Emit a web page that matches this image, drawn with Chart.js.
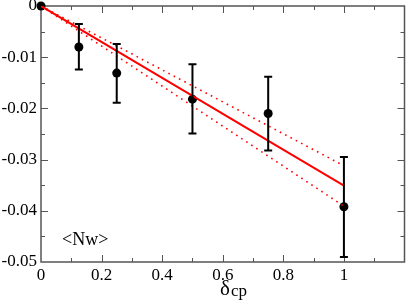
<!DOCTYPE html>
<html>
<head>
<meta charset="utf-8">
<script src="https://cdn.jsdelivr.net/npm/chart.js@4/dist/chart.umd.min.js"></script>
<style>
  body { margin: 0; background: #fff; }
  #wrap { width: 409px; height: 306px; position: relative; }
</style>
</head>
<body>
<div id="wrap"><canvas id="chart"></canvas></div>
<script>
// data
var xVals = [0, 0.125, 0.25, 0.5, 0.75, 1];
var nwVals = [0, -0.0080, -0.0131, -0.0182, -0.0210, -0.0392];
var errHigh = [0, -0.0035, -0.0074, -0.0114, -0.0138, -0.0295];
var errLow = [0, -0.0124, -0.0189, -0.0249, -0.0282, -0.0490];

var fitX = [0, 1];
var fitY = [0, -0.0351];
var fitUpper = [0, -0.0312];
var fitLower = [0, -0.0391];

var xTicks = [0, 0.2, 0.4, 0.6, 0.8, 1];
var yTicks = [0, -0.01, -0.02, -0.03, -0.04, -0.05];

function pts(xs, ys) {
    var out = [];
    for (var i = 0; i < xs.length; i++) out.push({x: xs[i], y: ys[i]});
    return out;
}

var serif = "'Liberation Serif', 'DejaVu Serif', serif";

// frame, inward ticks, error bars and axis title
var decor = {
    id: 'decor',
    beforeDatasetsDraw: function(chart) {
        var ctx = chart.ctx;
        var a = chart.chartArea;
        var xs = chart.scales.x, ys = chart.scales.y;
        ctx.save();
        ctx.strokeStyle = '#555';
        ctx.lineWidth = 1.5;
        ctx.strokeRect(a.left, a.top, a.right - a.left, a.bottom - a.top);
        ctx.lineWidth = 1;
        ctx.beginPath();
        // x ticks every 0.1, major every 0.2
        for (var k = 1; k < 12; k++) {
            var len = (k % 2 === 0) ? 7 : 4;
            var px = Math.round(xs.getPixelForValue(k / 10)) + 0.5;
            ctx.moveTo(px, a.bottom); ctx.lineTo(px, a.bottom - len);
            ctx.moveTo(px, a.top); ctx.lineTo(px, a.top + len);
        }
        // y ticks every 0.005, major every 0.01
        for (var j = 1; j < 10; j++) {
            var len2 = (j % 2 === 0) ? 7 : 4;
            var py = Math.round(ys.getPixelForValue(-j * 0.005)) + 0.5;
            ctx.moveTo(a.left, py); ctx.lineTo(a.left + len2, py);
            ctx.moveTo(a.right, py); ctx.lineTo(a.right - len2, py);
        }
        ctx.stroke();
        ctx.restore();
    },
    afterDatasetsDraw: function(chart) {
        var ctx = chart.ctx;
        var xs = chart.scales.x, ys = chart.scales.y;
        ctx.save();
        ctx.strokeStyle = '#000';
        ctx.lineWidth = 2;
        for (var i = 0; i < xVals.length; i++) {
            if (errHigh[i] === errLow[i]) continue;
            var px = xs.getPixelForValue(xVals[i]);
            var top = ys.getPixelForValue(errHigh[i]);
            var bot = ys.getPixelForValue(errLow[i]);
            ctx.beginPath();
            ctx.moveTo(px, top); ctx.lineTo(px, bot);
            ctx.moveTo(px - 4, top); ctx.lineTo(px + 4, top);
            ctx.moveTo(px - 4, bot); ctx.lineTo(px + 4, bot);
            ctx.stroke();
        }
        ctx.fillStyle = '#000';
        ctx.textBaseline = 'alphabetic';
        ctx.textAlign = 'left';
        ctx.font = '21px ' + serif;
        ctx.fillText('\u03b4', 220, 295);
        ctx.font = '17px ' + serif;
        ctx.fillText('cp', 231, 296);
        ctx.font = '18px ' + serif;
        ctx.fillText('<Nw>', 62, 245);
        ctx.restore();
    }
};

var ctx = document.getElementById('chart').getContext('2d');
var chart = new Chart(ctx, {
    type: 'scatter',
    data: {
        datasets: [
            {
                label: 'fit',
                data: pts(fitX, fitY),
                showLine: true,
                borderColor: '#ff0000',
                borderWidth: 2,
                pointRadius: 0
            },
            {
                label: 'upper',
                data: pts(fitX, fitUpper),
                showLine: true,
                borderColor: '#ff0000',
                borderWidth: 1.6,
                borderDash: [1.6, 4.4],
                pointRadius: 0
            },
            {
                label: 'lower',
                data: pts(fitX, fitLower),
                showLine: true,
                borderColor: '#ff0000',
                borderWidth: 1.6,
                borderDash: [1.6, 4.4],
                pointRadius: 0
            },
            {
                label: '<Nw>',
                data: pts(xVals, nwVals),
                showLine: false,
                clip: false,
                pointRadius: 4.5,
                pointBackgroundColor: '#000',
                pointBorderColor: '#000',
                pointBorderWidth: 0
            }
        ]
    },
    options: {
        responsive: true,
        maintainAspectRatio: false,
        animation: false,
        layout: { padding: { top: 6, right: 2, left: 0, bottom: 0 } },
        plugins: { legend: { display: false }, tooltip: { enabled: false } },
        scales: {
            x: {
                type: 'linear',
                min: 0,
                max: 1.2,
                grid: { display: false, drawTicks: false },
                border: { display: false },
                afterBuildTicks: function(scale) {
                    scale.ticks = xTicks.map(function(v) { return {value: v}; });
                },
                ticks: {
                    autoSkip: false,
                    maxRotation: 0,
                    padding: 3,
                    color: '#000',
                    font: { family: serif, size: 17 },
                    callback: function(v) { return v === 0 ? '0' : String(+v.toFixed(1)); }
                },
                afterFit: function(scale) {
                    scale.height = 44;
                    scale.paddingLeft = 0;
                    scale.paddingRight = 0;
                }
            },
            y: {
                type: 'linear',
                min: -0.05,
                max: 0,
                grid: { display: false, drawTicks: false },
                border: { display: false },
                afterBuildTicks: function(scale) {
                    scale.ticks = yTicks.map(function(v) { return {value: v}; });
                },
                ticks: {
                    autoSkip: false,
                    padding: 4,
                    color: '#000',
                    font: { family: serif, size: 17 },
                    callback: function(v) { return v === 0 ? '0' : v.toFixed(2); }
                },
                afterFit: function(scale) {
                    scale.width = 41;
                    scale.paddingTop = 0;
                    scale.paddingBottom = 0;
                }
            }
        }
    },
    plugins: [decor]
});
</script>
</body>
</html>
